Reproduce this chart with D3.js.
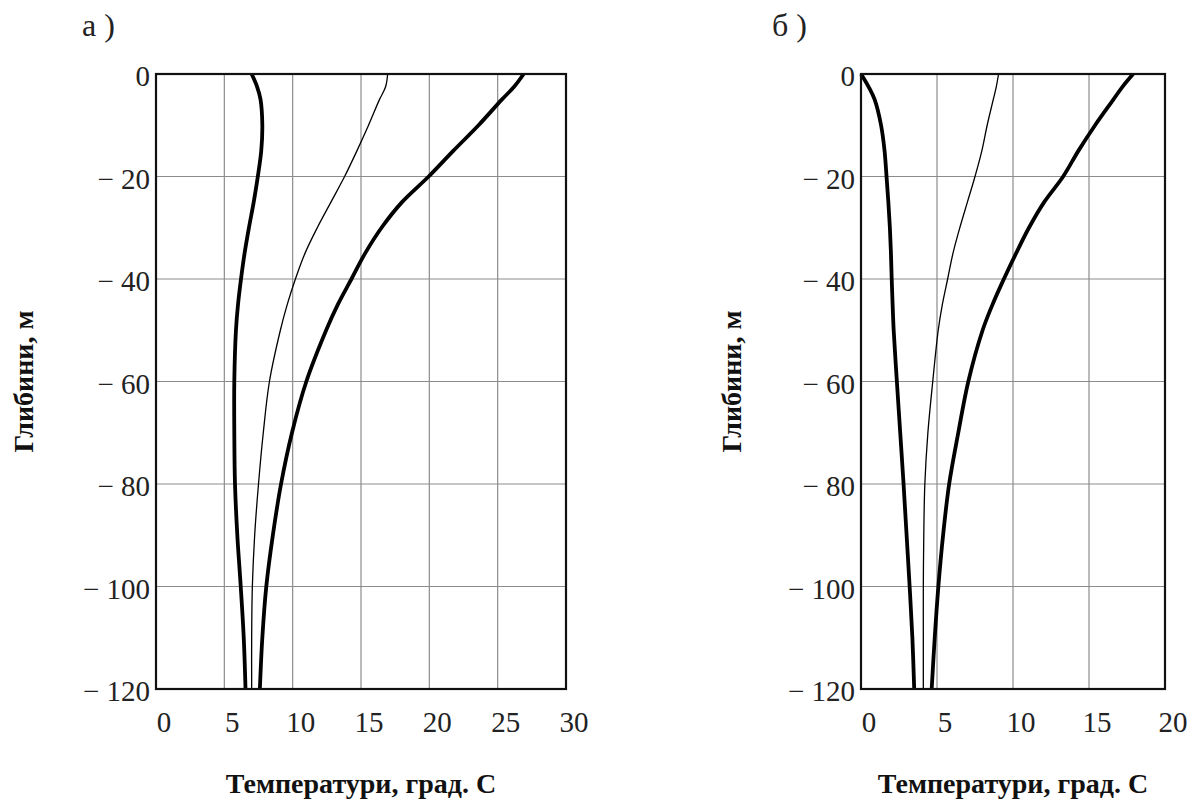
<!DOCTYPE html>
<html>
<head>
<meta charset="utf-8">
<script src="https://cdn.jsdelivr.net/npm/d3@7"></script>
<style>
    body { margin: 0; background: #fff; }
    svg { display: block; }
    .tick-label { font-family: "Liberation Serif", "Times New Roman", serif; font-size: 29px; fill: #222; }
    .axis-title { font-family: "Liberation Serif", "Times New Roman", serif; font-size: 28px; font-weight: bold; fill: #111; }
    .panel-label { font-family: "Liberation Serif", "Times New Roman", serif; font-size: 32px; fill: #222; }
</style>
</head>
<body>
<div id="chart"></div>
<script>

// depths shared by all curves (m)
let depths = [0, -2.5, -5, -10, -15, -20, -25, -30, -35, -40, -45, -50, -60, -70, -80, -90, -100, -110, -120];

// panel а) temperatures, grad. C
let tempA1 = [7.0, 7.4, 7.65, 7.78, 7.7, 7.45, 7.15, 6.8, 6.48, 6.22, 6.0, 5.85, 5.73, 5.73, 5.78, 5.95, 6.2, 6.42, 6.55];
let tempA2 = [16.95, 16.8, 16.35, 15.55, 14.7, 13.8, 12.8, 11.8, 10.9, 10.2, 9.6, 9.1, 8.3, 7.85, 7.5, 7.22, 7.05, 7.0, 7.0];
let tempA3 = [26.9, 26.2, 25.3, 23.6, 21.75, 19.95, 18.0, 16.5, 15.3, 14.3, 13.3, 12.45, 11.0, 9.95, 9.15, 8.55, 8.07, 7.78, 7.6];

// panel б) temperatures, grad. C
let tempB1 = [0.0, 0.5, 0.9, 1.32, 1.55, 1.68, 1.8, 1.9, 1.97, 2.02, 2.08, 2.15, 2.36, 2.58, 2.8, 3.0, 3.2, 3.38, 3.5];
let tempB2 = [9.05, 8.9, 8.7, 8.3, 7.95, 7.5, 7.0, 6.5, 6.05, 5.7, 5.35, 5.08, 4.72, 4.4, 4.2, 4.13, 4.1, 4.1, 4.1];
let tempB3 = [17.9, 17.2, 16.6, 15.4, 14.3, 13.3, 12.05, 11.05, 10.2, 9.4, 8.65, 8.0, 7.06, 6.4, 5.8, 5.4, 5.09, 4.85, 4.65];

// ticks
let xTicksA = [0, 5, 10, 15, 20, 25, 30];
let xTicksB = [0, 5, 10, 15, 20];
let yTicks = [0, -20, -40, -60, -80, -100, -120];

// curve styles: thick, thin, thick
let curveWidths = [3.8, 1.3, 3.8];


class profilePanel {

    constructor(_svg, _box, _label, _xTicks, _series) {
        this.svg = _svg;
        this.box = _box;
        this.label = _label;
        this.xTicks = _xTicks;
        this.series = _series;

        this.initVis();
    }

    initVis() {
        let vis = this;
        let b = vis.box;

        vis.x = d3.scaleLinear()
            .domain([vis.xTicks[0], vis.xTicks[vis.xTicks.length - 1]])
            .range([b.left, b.right]);

        vis.y = d3.scaleLinear()
            .domain([0, -120])
            .range([b.top, b.bottom]);

        let g = vis.svg.append("g");

        // grid
        g.selectAll(".vgrid")
            .data(vis.xTicks.slice(1, -1))
            .enter().append("line")
            .attr("class", "vgrid")
            .attr("x1", d => vis.x(d)).attr("x2", d => vis.x(d))
            .attr("y1", b.top).attr("y2", b.bottom)
            .style("stroke", "#8c8c8c")
            .style("stroke-width", 1.2);

        g.selectAll(".hgrid")
            .data(yTicks.slice(1, -1))
            .enter().append("line")
            .attr("class", "hgrid")
            .attr("x1", b.left).attr("x2", b.right)
            .attr("y1", d => vis.y(d)).attr("y2", d => vis.y(d))
            .style("stroke", "#8c8c8c")
            .style("stroke-width", 1.2);

        // curves
        let line = d3.line()
            .x(d => vis.x(d.t))
            .y(d => vis.y(d.z))
            .curve(d3.curveCatmullRom.alpha(0.5));

        vis.series.forEach(function(temps, i) {
            let pts = depths.map((z, k) => ({ z: z, t: temps[k] }));
            g.append("path")
                .datum(pts)
                .attr("d", line)
                .style("fill", "none")
                .style("stroke", "#000")
                .style("stroke-width", curveWidths[i])
                .style("stroke-linejoin", "round");
        });

        // frame
        g.append("rect")
            .attr("x", b.left).attr("y", b.top)
            .attr("width", b.right - b.left)
            .attr("height", b.bottom - b.top)
            .style("fill", "none")
            .style("stroke", "#111")
            .style("stroke-width", 2.2);

        // tick labels
        g.selectAll(".xlab")
            .data(vis.xTicks)
            .enter().append("text")
            .attr("class", "tick-label")
            .attr("x", d => vis.x(d) + 8)
            .attr("y", b.bottom + 43)
            .style("text-anchor", "middle")
            .text(d => d);

        g.selectAll(".ylab")
            .data(yTicks)
            .enter().append("text")
            .attr("class", "tick-label")
            .attr("x", b.left - 6)
            .attr("y", d => vis.y(d) + 12)
            .style("text-anchor", "end")
            .text(d => d === 0 ? "0" : "\u2212 " + Math.abs(d));

        // titles
        g.append("text")
            .attr("class", "axis-title")
            .attr("x", (b.left + b.right) / 2)
            .attr("y", 793)
            .style("text-anchor", "middle")
            .text("Температури, град. С");

        g.append("text")
            .attr("class", "axis-title")
            .attr("transform", "translate(" + b.yTitleX + "," + ((b.top + b.bottom) / 2) + ") rotate(-90)")
            .style("text-anchor", "middle")
            .text("Глибини, м");

        g.append("text")
            .attr("class", "panel-label")
            .attr("x", b.labelX)
            .attr("y", 36)
            .text(vis.label);
    }
}


let svg = d3.select("#chart").append("svg")
    .attr("width", 1199)
    .attr("height", 803);

new profilePanel(svg, { left: 156, right: 566, top: 74, bottom: 689, yTitleX: 33, labelX: 82 }, "а )", xTicksA, [tempA1, tempA2, tempA3]);
new profilePanel(svg, { left: 861, right: 1165, top: 74, bottom: 689, yTitleX: 741, labelX: 772 }, "б )", xTicksB, [tempB1, tempB2, tempB3]);

</script>
</body>
</html>
